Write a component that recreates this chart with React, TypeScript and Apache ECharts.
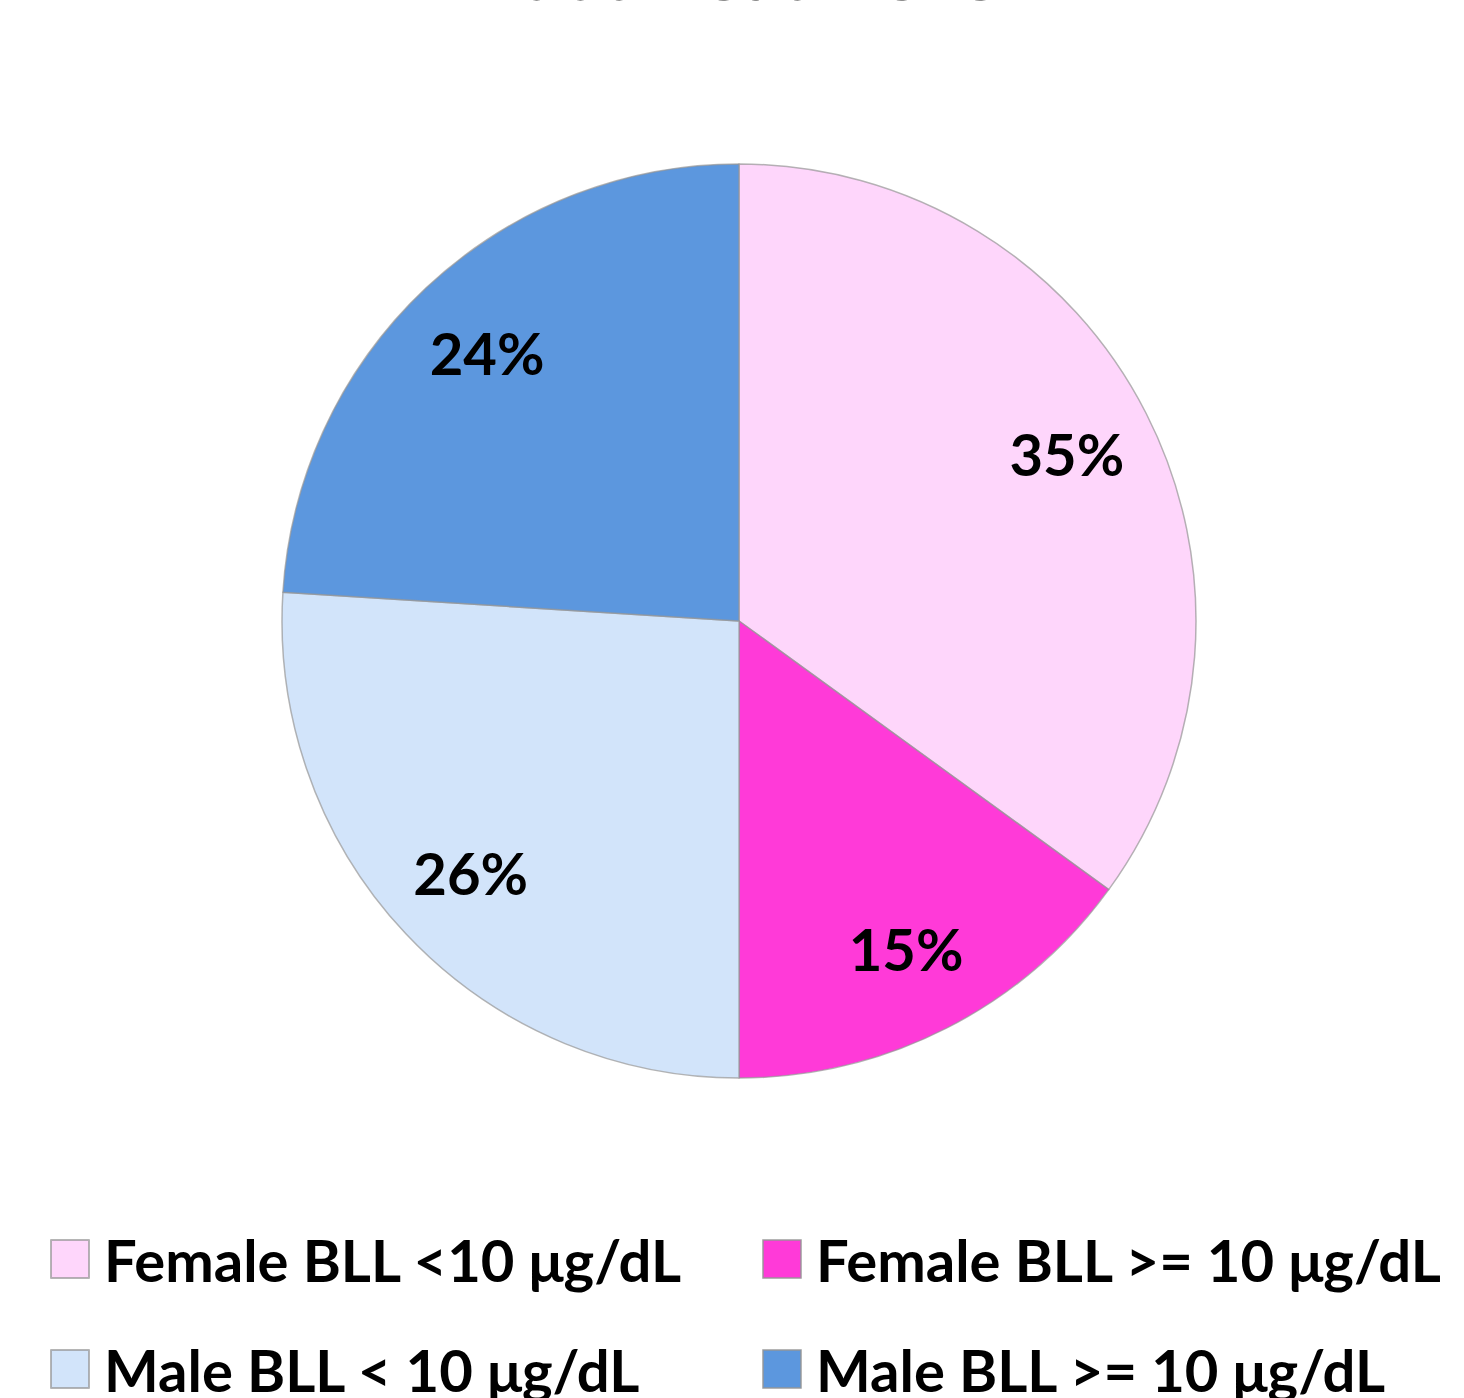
import React, { useEffect, useRef } from "react";
import * as echarts from "echarts";

const titleText = "Blood Lead Level";
const categories = [
  "Female BLL <10 μg/dL",
  "Female BLL >= 10 μg/dL",
  "Male BLL < 10 μg/dL",
  "Male BLL >= 10 μg/dL",
];
const values = [35, 15, 26, 24];
const colors = ["#FED6FB", "#FF3AD8", "#D2E4FA", "#5C97DE"];

const legendPos = [
  { left: 50, top: 1230 },
  { left: 762, top: 1230 },
  { left: 50, top: 1340 },
  { left: 762, top: 1340 },
];

export default function App() {
  const ref = useRef<HTMLDivElement>(null);
  useEffect(() => {
    if (!ref.current) return;
    const chart = echarts.init(ref.current, undefined, { renderer: "svg" });
    const data = categories.map((name, i) => ({
      name,
      value: values[i],
      itemStyle: { color: colors[i] },
    }));
    const font = "Lato, 'Open Sans', sans-serif";
    chart.setOption({
      animation: false,
      backgroundColor: "#ffffff",
      title: {
        text: titleText,
        left: "center",
        top: -73,
        textStyle: { fontFamily: font, fontWeight: "bold", fontSize: 76, color: "#222" },
      },
      legend: categories.map((name, i) => ({
        orient: "horizontal",
        left: legendPos[i].left,
        top: legendPos[i].top,
        padding: 0,
        itemWidth: 38,
        itemHeight: 38,
        icon: "rect",
        data: [name],
        selectedMode: false,
        textStyle: {
          fontFamily: font,
          fontWeight: "bold",
          fontSize: 58,
          color: "#000",
          padding: [0, 0, 0, 10],
        },
      })),
      series: [
        {
          type: "pie",
          center: [739, 621],
          radius: [0, 457],
          startAngle: 90,
          clockwise: true,
          data,
          label: { show: false },
          labelLine: { show: false },
          itemStyle: { borderColor: "rgba(150,150,150,0.7)", borderWidth: 1.5 },
          emphasis: { disabled: true },
        },
        {
          type: "pie",
          center: [739, 621],
          radius: [0, 730],
          startAngle: 90,
          clockwise: true,
          silent: true,
          data: categories.map((name, i) => ({ name, value: values[i] })),
          itemStyle: { color: "rgba(0,0,0,0)", borderWidth: 0 },
          label: {
            show: true,
            position: "inside",
            formatter: (p: any) => `${p.value}%`,
            fontFamily: font,
            fontWeight: "bold",
            fontSize: 58,
            color: "#000",
          },
          labelLine: { show: false },
          emphasis: { disabled: true },
          tooltip: { show: false },
        },
      ],
    });
    return () => chart.dispose();
  }, []);
  return (
    <div
      ref={ref}
      style={{ position: "absolute", left: 0, top: 0, width: 1464, height: 1398 }}
    />
  );
}
